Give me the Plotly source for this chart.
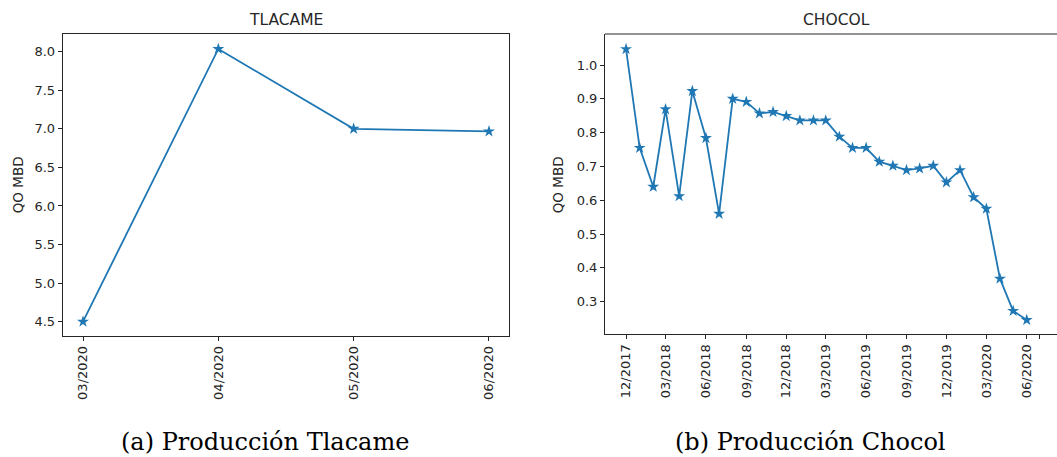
import plotly.graph_objects as go

# ---------------- data ----------------
tlacame_months = ["03/2020", "04/2020", "05/2020", "06/2020"]
tlacame_qo = [4.50, 8.035, 7.00, 6.967]

chocol_dates = [
    "2017-12-01", "2018-01-01", "2018-02-01", "2018-03-01", "2018-04-01", "2018-05-01",
    "2018-06-01", "2018-07-01", "2018-08-01", "2018-09-01", "2018-10-01", "2018-11-01",
    "2018-12-01", "2019-01-01", "2019-02-01", "2019-03-01", "2019-04-01", "2019-05-01",
    "2019-06-01", "2019-07-01", "2019-08-01", "2019-09-01", "2019-10-01", "2019-11-01",
    "2019-12-01", "2020-01-01", "2020-02-01", "2020-03-01", "2020-04-01", "2020-05-01",
    "2020-06-01",
]
chocol_qo = [
    1.047, 0.755, 0.640, 0.869, 0.612, 0.923,
    0.784, 0.560, 0.900, 0.891, 0.857, 0.861,
    0.849, 0.836, 0.836, 0.836, 0.788, 0.755,
    0.755, 0.714, 0.702, 0.689, 0.694, 0.702,
    0.653, 0.689, 0.609, 0.575, 0.368, 0.273,
    0.246,
]

chocol_tickvals = ["2017-12-01", "2018-03-01", "2018-06-01", "2018-09-01", "2018-12-01",
                   "2019-03-01", "2019-06-01", "2019-09-01", "2019-12-01", "2020-03-01",
                   "2020-06-01", "2020-07-01"]
chocol_ticktext = ["12/2017", "03/2018", "06/2018", "09/2018", "12/2018",
                   "03/2019", "06/2019", "09/2019", "12/2019", "03/2020",
                   "06/2020", ""]

titles = ["TLACAME", "CHOCOL"]
captions = ["(a) Producción Tlacame", "(b) Producción Chocol"]
ylabel = "QO MBD"

# ---------------- style ----------------
W, H = 1057, 457
BLUE = "#1f77b4"
AX = "#262626"
FONT = "DejaVu Sans"

def px_x(p):
    return p / W

def px_y(p):
    return 1 - p / H

fig = go.Figure()

fig.add_trace(go.Scatter(
    x=tlacame_months, y=tlacame_qo, mode="lines+markers",
    line=dict(color=BLUE, width=1.8),
    marker=dict(symbol="star", size=9, color=BLUE),
    xaxis="x", yaxis="y", hoverinfo="x+y",
))
fig.add_trace(go.Scatter(
    x=chocol_dates, y=chocol_qo, mode="lines+markers",
    line=dict(color=BLUE, width=1.8),
    marker=dict(symbol="star", size=9, color=BLUE),
    xaxis="x2", yaxis="y2", hoverinfo="x+y",
))

common_axis = dict(
    showgrid=False, zeroline=False, showline=True, linecolor=AX, linewidth=1,
    ticks="outside", ticklen=4, tickwidth=1, tickcolor=AX,
    tickfont=dict(family=FONT, size=13, color=AX), automargin=False,
)

fig.update_layout(
    width=W, height=H, autosize=False,
    margin=dict(l=0, r=0, t=0, b=0),
    paper_bgcolor="white", plot_bgcolor="white",
    showlegend=False,
    xaxis=dict(
        domain=[px_x(62.7), px_x(509)], anchor="y", type="category",
        categoryorder="array", categoryarray=tlacame_months,
        range=[-0.15, 3.148], tickangle=-90, mirror=True, **common_axis,
    ),
    yaxis=dict(
        domain=[px_y(335.7), px_y(34.3)], anchor="x",
        range=[4.318, 8.225], tick0=4.5, dtick=0.5, tickformat=".1f",
        mirror=True, **common_axis,
    ),
    xaxis2=dict(
        domain=[px_x(605), 1.0], anchor="y2", type="date",
        range=["2017-10-14", "2020-08-09"],
        tickmode="array", tickvals=chocol_tickvals, ticktext=chocol_ticktext,
        tickangle=-90, mirror=False, **common_axis,
    ),
    yaxis2=dict(
        domain=[px_y(334), px_y(34)], anchor="x2",
        range=[0.2045, 1.0917], tick0=0, dtick=0.1, tickformat=".1f",
        mirror=False, **common_axis,
    ),
)

# top spine of the (cropped) right panel
fig.add_shape(type="line", xref="paper", yref="paper",
              x0=px_x(605), x1=1.0, y0=px_y(34), y1=px_y(34),
              line=dict(color=AX, width=1))

# titles
for txt, cx in zip(titles, [286, 836]):
    fig.add_annotation(text=txt, x=px_x(cx), y=px_y(20), xref="paper", yref="paper",
                       showarrow=False, xanchor="center", yanchor="middle",
                       font=dict(family=FONT, size=15.5, color=AX))

# y-axis labels
for cx in [18.3, 558.3]:
    fig.add_annotation(text=ylabel, x=px_x(cx), y=px_y(185), xref="paper", yref="paper",
                       showarrow=False, xanchor="center", yanchor="middle", textangle=-90,
                       font=dict(family=FONT, size=13.5, color=AX))

# captions
for txt, cx in zip(captions, [265, 810]):
    fig.add_annotation(text=txt, x=px_x(cx), y=px_y(442), xref="paper", yref="paper",
                       showarrow=False, xanchor="center", yanchor="middle",
                       font=dict(family="DejaVu Serif", size=24, color="black"))

fig.write_html(
    "out.html",
    config={"displayModeBar": False},
    post_script="document.body.style.margin='0';document.body.style.overflow='hidden';",
)
